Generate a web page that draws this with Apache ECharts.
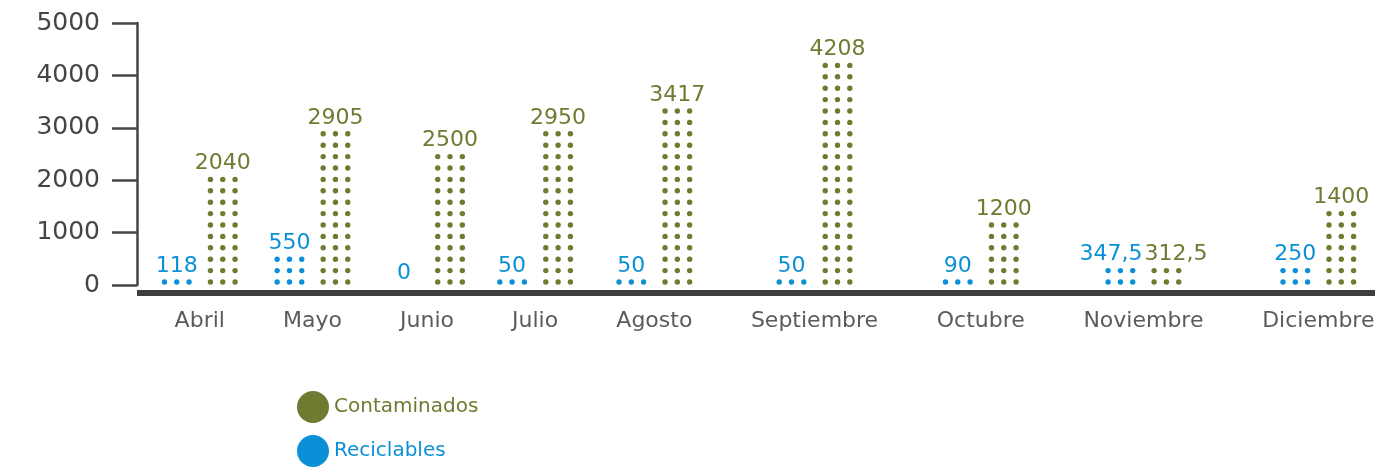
<!DOCTYPE html>
<html>
<head>
<meta charset="utf-8">
<script src="https://cdn.jsdelivr.net/npm/echarts@6/dist/echarts.min.js"></script>
<style>
  html, body { margin: 0; padding: 0; background: #fff; }
  #chart { width: 1398px; height: 467px; }
</style>
</head>
<body>
<div id="chart"></div>
<script>
// Monthly waste totals
const months = ['Abril', 'Mayo', 'Junio', 'Julio', 'Agosto', 'Septiembre', 'Octubre', 'Noviembre', 'Diciembre'];
const reciclables = [118, 550, 0, 50, 50, 50, 90, 347.5, 250];
const contaminados = [2040, 2905, 2500, 2950, 3417, 4208, 1200, 312.5, 1400];
const yTicks = [0, 1000, 2000, 3000, 4000, 5000];

const GREEN = '#6e7b30';
const BLUE = '#0b90d7';
const FONT = '"DejaVu Sans", sans-serif';
const VALUE_FONT = '22px ' + FONT;

// Month slots are as wide as their labels, separated by a constant gap,
// so the x axis is measured in label-text pixels.
const ctx = document.createElement('canvas').getContext('2d');
ctx.font = '22px ' + FONT;
const widths = months.map(m => ctx.measureText(m).width);
const LEAD = 37, GAP = 57;
const centers = [];
let cursor = LEAD;
widths.forEach((w, i) => {
  centers.push(cursor + w / 2);
  cursor += w + (i < widths.length - 1 ? GAP : 0);
});
const xMax = cursor;

// Dot columns: three dots per row, one row per ROW_STEP pixels of value
const ROW_STEP = 11.4, DOT_R = 2.7, COL_STEP = 12.3, SIDE = 23;

const fmtNum = v => String(v).replace('.', ',');

// Value-label geometry for one series in one month (pixel space)
function labelBox(api, x, v, side) {
  const base = api.coord([x, 0]);
  const top = api.coord([x, v]);
  const h = base[1] - top[1];
  const rows = v > 0 ? Math.ceil(h / ROW_STEP - 1e-6) : 0;
  const y0 = base[1] - 3;
  const bottom = rows > 0 ? y0 - (rows - 1) * ROW_STEP - 5 : base[1] - 1;
  ctx.font = VALUE_FONT;
  const w = ctx.measureText(fmtNum(v)).width;
  return { cx: base[0] + side, y0, rows, bottom, top: bottom - 22, w };
}

function dotRenderer(color, own, other, side) {
  return function (params, api) {
    const i = params.dataIndex;
    const x = centers[i];
    const me = labelBox(api, x, own[i], side);
    const them = labelBox(api, x, other[i], -side);
    const children = [];
    for (let r = 0; r < me.rows; r++) {
      for (let c = -1; c <= 1; c++) {
        children.push({
          type: 'circle',
          shape: { cx: me.cx + c * COL_STEP, cy: me.y0 - r * ROW_STEP, r: DOT_R },
          style: { fill: color }
        });
      }
    }
    // push the two labels of a month apart when they would collide
    let lx = me.cx;
    const vOverlap = me.top < them.bottom && them.top < me.bottom;
    const need = (me.w + them.w) / 2 + 2 - Math.abs(me.cx - them.cx);
    if (vOverlap && need > 0) lx += Math.sign(side) * need / 2;
    children.push({
      type: 'text',
      x: lx, y: me.bottom,
      style: {
        text: fmtNum(own[i]),
        fill: color,
        font: VALUE_FONT,
        align: 'center',
        verticalAlign: 'bottom'
      }
    });
    return { type: 'group', children };
  };
}

const chart = echarts.init(document.getElementById('chart'), null, { renderer: 'canvas' });
chart.setOption({
  animation: false,
  backgroundColor: '#ffffff',
  grid: { left: 137, right: 23, top: 23, bottom: 182, containLabel: false },
  legend: {
    data: [
      { name: 'Contaminados', textStyle: { color: GREEN } },
      { name: 'Reciclables', textStyle: { color: BLUE } }
    ],
    orient: 'vertical',
    left: 297,
    top: 391,
    height: 90,
    padding: 0,
    icon: 'circle',
    itemWidth: 32,
    itemHeight: 32,
    itemGap: 12,
    textStyle: { fontFamily: FONT, fontSize: 20 },
    selectedMode: false
  },
  xAxis: {
    type: 'value',
    min: 0,
    max: xMax,
    offset: 8,
    splitLine: { show: false },
    axisLine: { show: true, onZero: false, lineStyle: { color: '#3f3f41', width: 6, cap: 'butt' } },
    axisTick: { show: false },
    axisLabel: {
      customValues: centers,
      formatter: v => {
        let best = 0;
        centers.forEach((c, i) => { if (Math.abs(c - v) < Math.abs(centers[best] - v)) best = i; });
        return months[best];
      },
      color: '#5b5b5b',
      fontFamily: FONT,
      fontSize: 22,
      margin: 17
    }
  },
  yAxis: {
    type: 'value',
    min: yTicks[0],
    max: yTicks[yTicks.length - 1],
    interval: 1000,
    splitLine: { show: false },
    axisLine: { show: true, lineStyle: { color: '#454545', width: 2.5 } },
    axisTick: { show: true, length: 25, lineStyle: { color: '#454545', width: 2.5 } },
    axisLabel: {
      color: '#454545',
      fontFamily: FONT,
      fontSize: 25,
      margin: 37,
      formatter: v => String(v)
    }
  },
  series: [
    {
      name: 'Contaminados',
      type: 'custom',
      itemStyle: { color: GREEN },
      renderItem: dotRenderer(GREEN, contaminados, reciclables, SIDE),
      data: contaminados.map((v, i) => [centers[i], v]),
      encode: { x: 0, y: 1 }
    },
    {
      name: 'Reciclables',
      type: 'custom',
      itemStyle: { color: BLUE },
      renderItem: dotRenderer(BLUE, reciclables, contaminados, -SIDE),
      data: reciclables.map((v, i) => [centers[i], v]),
      encode: { x: 0, y: 1 }
    }
  ]
});
</script>
</body>
</html>
